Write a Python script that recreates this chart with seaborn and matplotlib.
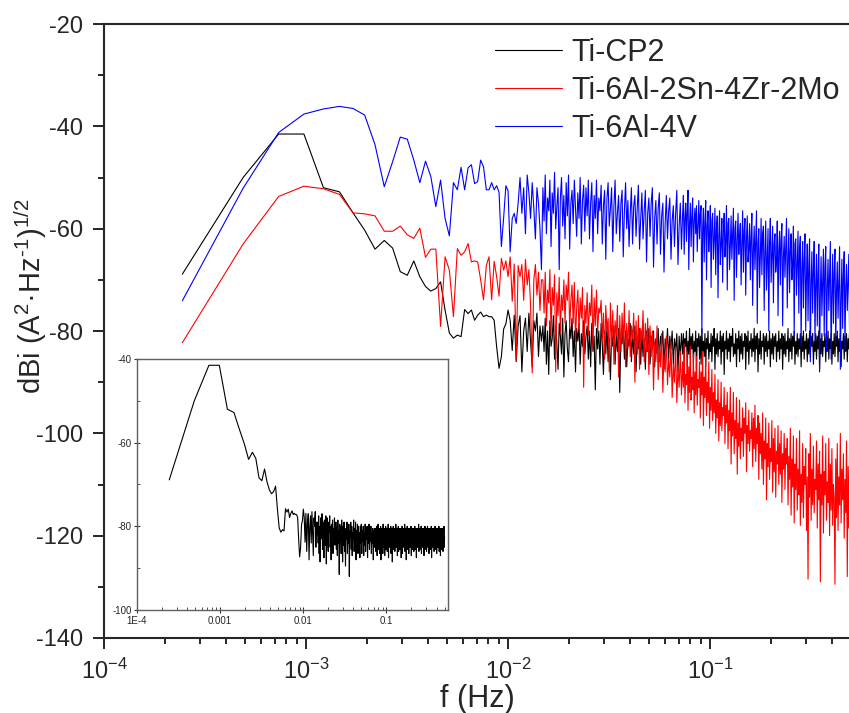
'''Noise spectra of three titanium alloys with an inset of Ti-CP2'''
import numpy as np
import matplotlib
matplotlib.use('Agg')
import matplotlib.pyplot as plt
from matplotlib.ticker import MultipleLocator, LogLocator, NullFormatter, FixedLocator, FixedFormatter
import seaborn as sns

# frequency resolution of the spectra (Hz)
DF = 1 / 4096
K_MID = 300
K_MAX = 2048

labels = ['Ti-CP2', 'Ti-6Al-2Sn-4Zr-2Mo', 'Ti-6Al-4V']
colors = ['#000000', '#ff0000', '#0000ff']

# first 60 bins, one value per bin
cp2_low = [-68.9, -50.0, -41.5, -41.5, -52.0, -52.8, -56.9, -60.3, -64.0, -62.3,
           -63.8, -68.4, -69.1, -66.3, -69.4, -71.3, -72.2, -71.7, -70.4, -75.9,
           -80.4, -81.4, -80.8, -81.1, -75.8, -76.6, -75.9, -77.9, -76.9, -76.3,
           -77.2, -76.9, -77.2, -77.2, -77.9, -83.1, -87.3, -85.0, -79.6, -78.6,
           -75.9, -77.9, -83.8, -76.9, -86.0, -79.0, -77.0, -88.0, -80.0, -77.5,
           -84.0, -76.5, -82.0, -87.0, -78.0, -80.0, -76.5, -85.0, -79.0, -82.0]
al2sn_low = [-82.3, -63.0, -53.7, -51.7, -52.2, -53.3, -56.9, -57.1, -57.5, -60.5,
             -60.5, -59.5, -61.2, -61.9, -59.9, -65.6, -64.0, -64.0, -79.1, -65.5,
             -68.1, -77.2, -63.9, -65.2, -64.5, -62.9, -66.5, -66.3, -66.5, -70.0,
             -73.9, -67.2, -65.5, -73.9, -66.4, -69.4, -73.2, -65.8, -68.1, -66.3,
             -69.4, -65.5, -74.2, -66.9, -85.7, -67.2, -69.4, -67.0, -74.0, -66.0,
             -71.0, -68.0, -75.0, -88.2, -70.0, -67.0, -73.0, -68.5, -76.0, -70.0]
al4v_low = [-74.1, -52.1, -41.2, -37.6, -36.6, -36.1, -36.5, -37.8, -43.6, -51.8,
            -46.9, -42.1, -42.5, -46.6, -51.0, -46.8, -49.8, -55.7, -50.5, -58.0,
            -61.4, -51.0, -52.4, -48.0, -52.4, -48.1, -47.5, -51.2, -50.8, -46.6,
            -47.9, -52.4, -52.4, -51.0, -52.4, -51.6, -52.9, -63.5, -57.8, -51.6,
            -52.6, -64.5, -58.0, -57.0, -59.0, -55.0, -50.0, -57.0, -52.0, -61.0,
            -49.5, -53.0, -58.0, -51.0, -56.0, -62.0, -52.0, -55.0, -60.0, -68.0]

cp2_mid = [-79, -84, -77.5, -86.5, -80, -88.5, -78, -83, -81.5, -77,
           -85.5, -79, -82.5, -87.5, -78.5, -81, -84.5, -77.5, -89, -80.5,
           -78, -83.5, -86, -79, -81.5, -77.5, -85, -80, -88, -79.5,
           -82, -78.5, -86.5, -80.5, -83, -78, -84.5, -81, -79, -85.5,
           -80, -87, -78.5, -84, -81, -91.5, -79.5, -83.5, -80, -86.5,
           -78.5, -82.5, -88.5, -80, -84.5, -79, -86, -81.5, -89.5, -80.5,
           -83, -79, -86.5, -80.5, -84, -79.5, -92, -81, -82.5, -79,
           -85.5, -80, -87, -81.5, -83, -78.5, -86, -80.5, -84.5, -79,
           -88, -81, -83.5, -79.5, -86.5, -80, -85, -81.5, -87.5, -80,
           -84, -79.5, -86.5, -81, -83.5, -80, -87, -81.5, -84.5, -79.5,
           -86, -81, -83, -80, -87.5, -81.5, -84, -79.5, -85.5, -81,
           -83.5, -80, -86.5, -81.5, -84, -80.5, -88, -81, -85, -80.5]
al2sn_mid = [-70, -76.5, -68.5, -79, -72, -74.5, -68, -81, -71.5, -75,
             -69, -88, -72.5, -77, -69.5, -80.5, -73, -76, -70, -78.5,
             -71, -74, -68.5, -79.5,
             -74, -71, -78.5, -70.5, -82, -75.5, -72, -80, -73.5, -77.5,
             -71.5, -91, -75, -78.5, -72.5, -81, -74.5, -77, -71, -83.5,
             -73.5, -79, -72, -80.5, -75.5, -76.5,
             -74, -82, -76.5, -85.5, -75, -80, -77.5, -88, -74.5, -83,
             -76, -86.5, -78, -81, -75, -89, -77, -84, -76.5, -82.5,
             -74.5, -87, -78.5, -83.5, -76, -85, -79, -81.5, -76.5, -90,
             -78, -84.5, -77, -87.5, -79.5, -82, -76, -86, -78.5, -84,
             -77.5, -88.5, -79,
             -85, -80, -91.5, -82, -86, -79, -89.5, -83, -87, -80.5,
             -92, -84.5, -88, -81, -90.5, -85.5, -89, -82, -93, -86.5,
             -90, -83, -94, -87, -91, -84, -92.5]
al4v_mid = [-52, -58.5, -49.5, -61, -54, -56.5, -50.5, -63.5, -53, -57,
            -49, -60, -55.5, -52, -68, -54, -50, -59.5, -53.5, -62,
            -51, -57.5, -49.5, -64, -55, -52.5, -59, -50.5, -56, -61.5,
            -53, -58, -50, -63, -54.5, -51.5, -60.5, -52, -57.5, -50.5,
            -62, -55, -51, -64.5, -53.5, -58, -50.5, -61, -54, -56.5,
            -51.5, -63, -55.5, -52.5, -66, -54, -51, -59.5, -56, -52,
            -64.5, -55.5, -50.5, -61, -57, -53.5, -62.5, -55, -52.5, -65.5,
            -56.5, -51, -60, -54.5, -63.5, -57, -52, -63, -55.5, -53.5,
            -61.5, -56, -51.5, -64, -58, -53, -62,
            -56.5, -52.5, -66.5, -57, -54, -61.5, -55, -52, -67.5, -58,
            -54.5, -63, -56, -53, -65, -57.5, -55, -68.5, -59, -53.5,
            -62, -56.5, -54, -66, -58.5, -55.5, -63.5, -57, -52.5, -67,
            -59.5, -55, -64]

cp2_high = [-84.5, -80.5, -86, -81.5, -83, -80, -87, -82, -84.5, -79.5,
            -85.5, -81, -83.5, -80.5, -86.5, -82, -84, -80, -88, -81.5,
            -83, -80.5, -85.5, -81, -86.5, -79.5, -84, -82, -85, -80.5,
            -87, -81.5, -83.5, -80, -85.5, -82.5, -84, -80.5, -86, -81,
            -83, -79.5, -87.5, -81.5, -84.5, -80.5, -85, -82, -83.5, -80,
            -86.5, -81, -84, -80.5, -88.5, -82, -83.5, -80, -85.5, -81.5,
            -84, -80.5, -86, -81, -83, -79.5, -85, -82.5, -84.5, -80.5,
            -87, -81.5, -83.5, -80, -86, -81, -84.5, -80.5, -85.5, -82,
            -83, -80.5, -87.5, -81, -84, -80, -86.5, -82, -83.5, -80.5,
            -85, -81.5, -84, -79.5, -86, -81, -83.5, -80.5, -88, -81.5,
            -84.5, -80, -85.5, -82, -83, -80.5, -86.5, -81, -84, -80.5,
            -85, -82, -83.5, -80, -87, -81.5, -84.5, -80.5, -85.5, -81,
            -83, -80.5, -86, -82, -84, -80, -85.5, -81.5, -83.5, -80.5,
            -87.5, -81, -84.5, -80.5, -85, -82, -83.5, -79.5, -86, -81.5,
            -84, -80.5, -85.5, -81, -83, -80, -86.5, -82, -84.5, -80.5,
            -85, -81.5, -83.5, -80.5, -87, -81, -84, -80, -85.5, -82,
            -83.5, -80.5, -86, -81.5, -84.5, -80, -85, -81, -83, -80.5,
            -86.5, -82, -84, -80.5, -85.5, -81, -83.5, -80, -87.5, -81.5,
            -84.5, -80.5, -85, -82, -83, -80.5, -86, -81, -84, -80,
            -85.5, -81.5, -83.5, -80.5, -86.5, -82, -84.5, -80.5, -85, -81,
            -83, -80, -86, -81.5, -84, -80.5, -87, -82, -83.5, -80.5,
            -85.5, -81, -84, -80.5, -86, -81.5, -83.5, -80, -85, -82.5]
al2sn_high = [-86, -91, -82.5, -94, -88.5, -90.5, -84, -95.5, -87, -92,
              -83, -93.5, -89, -91.5, -84.5, -96, -88, -92.5, -85, -94.5,
              -89.5, -91, -86,
              -97, -88, -92.5, -84, -98.5, -89, -93, -85, -96.5, -90,
              -94, -86, -99, -91, -95.5, -87.5, -97.5, -92, -96, -88.5,
              -100, -93.5, -97, -89.5, -101.5, -94, -98.5, -90, -99.5, -95,
              -96.5, -91, -102, -94.5, -98,
              -92, -103, -95.5, -99.5, -91, -106, -96, -100.5, -92, -104,
              -97.5, -101, -93, -108, -98, -102.5, -93.5, -105, -99, -101.5,
              -95, -104.5, -97, -100, -94, -107.5, -98.5, -102, -95.5, -103.5,
              -99.5, -101, -96, -106.5, -97, -103, -94.5, -105.5, -99, -102,
              -96.5, -109, -98,
              -104, -100, -107, -96, -110, -101.5, -105, -97, -113, -102,
              -106.5, -98, -109, -103, -105.5, -97.5, -111.5, -101, -107.5, -99,
              -112.5, -103.5, -106, -98.5, -110, -102, -108, -99.5, -113.5, -104,
              -107, -100, -111, -103, -106,
              -101, -114, -104.5, -109, -99, -116, -105, -110.5, -100.5, -117.5,
              -106, -111, -101, -115, -107, -112, -99.5, -118, -108, -113.5,
              -102, -116.5, -106.5, -110, -103, -119, -108.5, -128.5, -104, -112.5,
              -100, -117, -107, -114, -102.5, -115.5, -109, -111, -101.5, -118.5,
              -106, -113, -103.5,
              -129, -108, -114, -100.5, -119.5, -107.5, -112, -102, -117, -109.5,
              -113.5, -101, -120, -106, -115, -103, -118, -110, -112.5, -129.5,
              -105, -116.5, -102, -119, -108.5, -114, -100, -117.5, -107, -113,
              -104, -120.5, -109, -115.5, -101.5, -128, -106.5, -118.5, -103, -116.5,
              -110]
al4v_high = [-57, -53.5, -65, -58, -55, -62.5, -56.5, -52.5, -68, -59,
             -55, -63.5, -57.5, -54, -66.5, -58.5, -56, -61, -55.5, -64.5,
             -59.5, -54.5, -62,
             -57, -55.5, -80.5, -60, -56, -66.5, -58.5, -54.5, -70, -59.5,
             -56.5, -64.5, -61, -55.5, -71.5, -58.5, -57, -66, -62, -56,
             -69, -60, -57.5, -73.5, -61.5, -56.5, -67, -63, -58, -70.5,
             -60.5, -57, -65.5, -62.5, -55.5, -72, -59, -58, -68, -63.5,
             -57.5, -66, -61, -56, -74, -60, -58.5, -69.5, -62.5, -57,
             -65, -61.5, -59, -71, -63, -56.5, -68.5, -60.5, -58, -73,
             -62, -57.5, -66.5, -64, -59,
             -70, -61.5, -57, -75, -64, -59.5, -68, -62.5, -56.5, -78.5,
             -63, -60, -71.5, -65.5, -58, -69, -61, -59.5, -76, -64.5,
             -58.5, -72, -66, -60, -80, -62.5, -58, -70.5, -65, -59.5,
             -74.5, -63, -61, -68.5, -66.5, -58.5, -77, -64, -60.5, -71,
             -62, -59, -79, -65.5, -61.5, -69.5, -63.5, -58, -75.5, -66,
             -60, -72.5, -64.5, -61, -70, -67, -59.5, -81, -63, -62,
             -73, -66.5, -60.5, -76.5, -64, -61.5,
             -83, -68, -62.5, -75.5, -66, -61, -80, -69.5, -63, -78,
             -67, -62, -86, -70.5, -64.5, -76.5, -68, -62.5, -82, -71,
             -65, -79, -69, -63, -88, -72.5, -65.5, -77, -70, -64,
             -81, -67.5, -63.5, -84, -71.5, -66, -76, -69.5, -62.5, -85.5,
             -73, -65, -78.5, -68.5, -64, -82.5, -72, -66.5, -77.5, -70,
             -63.5, -87.5, -74, -66, -79.5, -69, -64.5, -83.5, -71.5, -67,
             -76, -70.5, -65, -81, -73, -67.5]


def spectrum(low, mid, high):
    '''Frequency axis for the per-bin part and the two log-spaced parts'''
    k_low = np.arange(1, len(low) + 1)
    k_mid = np.geomspace(len(low) + 1, K_MID, len(mid), endpoint=False)
    k_high = np.geomspace(K_MID, K_MAX, len(high))
    f = np.concatenate([k_low, k_mid, k_high]) * DF
    return f, np.array(low + mid + high, dtype=float)


series = [spectrum(cp2_low, cp2_mid, cp2_high),
          spectrum(al2sn_low, al2sn_mid, al2sn_high),
          spectrum(al4v_low, al4v_mid, al4v_high)]

sns.set_style('ticks')
plt.rcParams['font.family'] = ['Liberation Sans', 'DejaVu Sans']
plt.rcParams['mathtext.fontset'] = 'custom'
plt.rcParams['mathtext.rm'] = 'Liberation Sans'
plt.rcParams['mathtext.it'] = 'Liberation Sans:italic'
plt.rcParams['mathtext.default'] = 'regular'
plt.rcParams['axes.unicode_minus'] = False

fig = plt.figure(figsize=(8.49, 7.13), dpi=100)
ax = fig.add_axes([0.1225, 0.1052, 0.88, 0.8611])

for (f, v), lab, col in zip(series, labels, colors):
    sns.lineplot(x=f, y=v, ax=ax, color=col, lw=0.8, label=lab,
                 estimator=None, sort=False)

ax.set_xscale('log')
ax.set_xlim(1e-4, 0.5)
ax.set_ylim(-140, -20)
ax.yaxis.set_major_locator(MultipleLocator(20))
ax.yaxis.set_minor_locator(MultipleLocator(10))
ax.xaxis.set_major_locator(LogLocator(base=10, numticks=10))
ax.xaxis.set_minor_locator(LogLocator(base=10, subs=np.arange(2, 10), numticks=20))
ax.xaxis.set_minor_formatter(NullFormatter())
ax.tick_params(which='major', direction='out', length=8, width=1.4, labelsize=17,
               pad=7, top=False, right=False)
ax.tick_params(which='minor', direction='out', length=4, width=1.4,
               top=False, right=False)
for side in ['left', 'bottom', 'top']:
    ax.spines[side].set_linewidth(1.5)
ax.spines['right'].set_visible(False)

ax.set_xlabel('f (Hz)', fontsize=22, labelpad=0)
ax.set_ylabel(r'dBi (A$^{2}$·Hz$^{\text{-}1}$)$^{1/2}$', fontsize=21)
ax.yaxis.set_label_coords(-0.074, 0.557)

ax.legend(frameon=False, fontsize=22, loc='upper left',
          bbox_to_anchor=(495 / 849, 1 - 38 / 713), bbox_transform=fig.transFigure,
          handlelength=2.2, handletextpad=0.3, labelspacing=0.26,
          borderpad=0, borderaxespad=0)

# inset with the Ti-CP2 spectrum alone
axin = fig.add_axes([0.1614, 0.1445, 0.3663, 0.352])
sns.lineplot(x=series[0][0], y=series[0][1], ax=axin, color='#000000', lw=0.8,
             estimator=None, sort=False, legend=False)
axin.set_xscale('log')
axin.set_xlim(1e-4, 0.55)
axin.set_ylim(-100, -40)
axin.yaxis.set_major_locator(MultipleLocator(20))
axin.yaxis.set_minor_locator(MultipleLocator(10))
axin.xaxis.set_major_locator(FixedLocator([1e-4, 1e-3, 1e-2, 1e-1]))
axin.xaxis.set_major_formatter(FixedFormatter(['1E-4', '0.001', '0.01', '0.1']))
axin.xaxis.set_minor_locator(LogLocator(base=10, subs=np.arange(2, 10), numticks=20))
axin.xaxis.set_minor_formatter(NullFormatter())
axin.tick_params(which='major', direction='inout', length=4, width=0.8,
                 labelsize=7, pad=2, color='#333333')
axin.tick_params(which='minor', direction='in', length=2, width=0.6, color='#333333')
axin.set_xlabel('')
axin.set_ylabel('')
for side in axin.spines:
    axin.spines[side].set_color('#606060')
    axin.spines[side].set_linewidth(1.0)

fig.savefig('out.png', dpi=100)
